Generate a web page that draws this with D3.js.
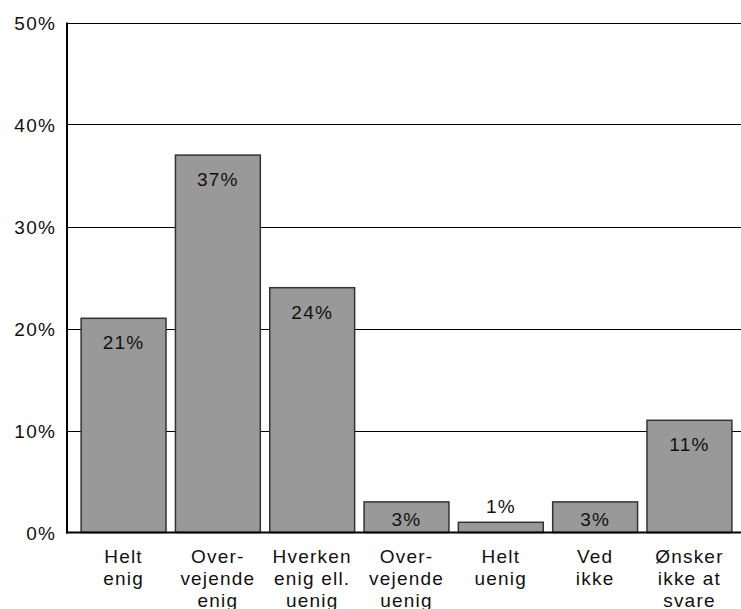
<!DOCTYPE html>
<html>
<head>
<meta charset="utf-8">
<script src="https://cdn.jsdelivr.net/npm/d3@7"></script>
<style>
  body { margin: 0; background: #fff; }
  svg { display: block; }
  text { font-family: "Liberation Sans", Arial, sans-serif; font-size: 19px; letter-spacing: 1.2px; fill: #111; }
</style>
</head>
<body>
<svg width="741" height="609"></svg>
<script>
// Kategorier (linjer i etiketten) og værdier i procent
const categories = [
  ["Helt", "enig"],
  ["Over-", "vejende", "enig"],
  ["Hverken", "enig ell.", "uenig"],
  ["Over-", "vejende", "uenig"],
  ["Helt", "uenig"],
  ["Ved", "ikke"],
  ["Ønsker", "ikke at", "svare"]
];
const values = [21, 37, 24, 3, 1, 3, 11];
const yTicks = [0, 10, 20, 30, 40, 50];

const svg = d3.select("svg");
const axisX = 67;
const baseY = 532.5;
const topY = 22.5;

const x = d3.scaleBand()
  .domain(d3.range(values.length))
  .range([76.4, 736.6])
  .paddingInner(0.1)
  .paddingOuter(0.05);
const y = d3.scaleLinear().domain([0, 50]).range([baseY, topY]);

// gitterlinjer
svg.append("g")
  .selectAll("line")
  .data(yTicks.filter((t) => t > 0))
  .join("line")
  .attr("x1", axisX)
  .attr("x2", 741)
  .attr("y1", (d) => Math.round(y(d)) + 0.5)
  .attr("y2", (d) => Math.round(y(d)) + 0.5)
  .attr("stroke", "#000")
  .attr("stroke-width", 1);

// y-akse etiketter
svg.append("g")
  .selectAll("text")
  .data(yTicks)
  .join("text")
  .attr("x", 56)
  .attr("y", (d) => y(d) + 7)
  .attr("text-anchor", "end")
  .text((d) => d + "%");

// søjler
svg.append("g")
  .selectAll("rect")
  .data(values)
  .join("rect")
  .attr("x", (d, i) => x(i))
  .attr("y", (d) => y(d))
  .attr("width", x.bandwidth())
  .attr("height", (d) => baseY - y(d))
  .attr("fill", "#999999")
  .attr("stroke", "#333")
  .attr("stroke-width", 1.5);

// værdietiketter
svg.append("g")
  .selectAll("text")
  .data(values)
  .join("text")
  .attr("x", (d, i) => x(i) + x.bandwidth() / 2)
  .attr("y", (d) => (d < 2 ? y(d) - 9 : Math.min(y(d) + 31, baseY - 7)))
  .attr("text-anchor", "middle")
  .text((d) => d + "%");

// akser
svg.append("line")
  .attr("x1", axisX).attr("x2", axisX)
  .attr("y1", topY).attr("y2", baseY + 1)
  .attr("stroke", "#000").attr("stroke-width", 2);
svg.append("line")
  .attr("x1", axisX - 1).attr("x2", 741)
  .attr("y1", baseY).attr("y2", baseY)
  .attr("stroke", "#000").attr("stroke-width", 2);

// kategorietiketter
const labels = svg.append("g")
  .selectAll("text")
  .data(categories)
  .join("text")
  .attr("text-anchor", "middle")
  .attr("transform", (d, i) => "translate(" + (x(i) + x.bandwidth() / 2) + ",563)");
labels.selectAll("tspan")
  .data((d) => d)
  .join("tspan")
  .attr("x", 0)
  .attr("y", (d, j) => j * 22)
  .text((d) => d);
</script>
</body>
</html>
